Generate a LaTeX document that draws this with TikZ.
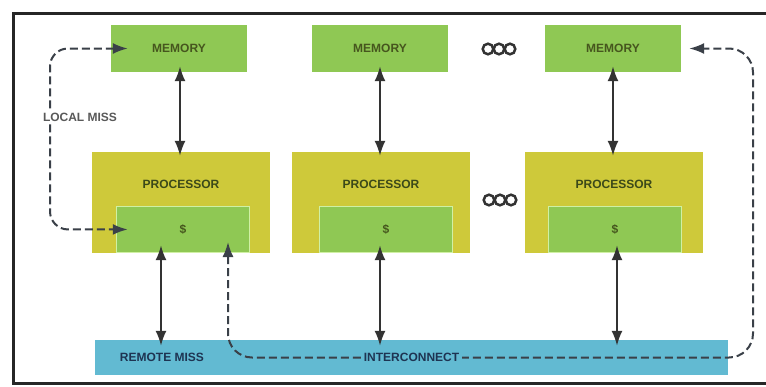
\documentclass[tikz,border=0pt]{standalone}
\usepackage{fontspec}
\setmainfont{Liberation Sans}
\usetikzlibrary{arrows.meta}
\definecolor{MemGreen}{RGB}{143,200,84}
\definecolor{CacheEdge}{RGB}{208,240,165}
\definecolor{ProcYellow}{RGB}{206,201,58}
\definecolor{BusBlue}{RGB}{98,186,210}
\definecolor{DarkOlive}{RGB}{70,86,30}
\definecolor{DarkSlate}{RGB}{58,64,72}
\definecolor{BusText}{RGB}{30,52,82}

\begin{document}
\begin{tikzpicture}[x=1pt,y=-1pt,
box/.style={inner sep=0pt,font=\fontsize{12}{14}\selectfont\bfseries},
mem/.style={box,fill=MemGreen,text=DarkOlive,minimum width=136pt,minimum height=47pt},
proc/.style={box,fill=ProcYellow,minimum width=178pt,minimum height=101pt},
ptxt/.style={box,text=DarkOlive!85!black},
cache/.style={mem,draw=CacheEdge,line width=1.5pt,minimum width=133pt,minimum height=46pt},
bus/.style={box,fill=BusBlue,minimum width=633pt,minimum height=35pt},
btxt/.style={box,text=BusText,fill=BusBlue,inner sep=3pt},
lbl/.style={box,text=black!65,fill=white,inner sep=2pt},
link/.style={{Latex[length=15pt,width=11pt]}-{Latex[length=15pt,width=11pt]},line width=2pt,draw=black!80},
miss/.style={link,dash pattern=on 8pt off 4pt,line width=2pt,draw=DarkSlate,rounded corners=18pt},
ring/.style={line width=2.5pt,draw=black!80}]

\fill[white] (0,0) rectangle (766,386);
\useasboundingbox (0,0) rectangle (766,386);
\draw[line width=2.8pt,black!85] (766,13.5) -- (13.5,13.5) -- (13.5,383.5) -- (766,383.5);

\node[mem] (m1) at (179,48.5) {MEMORY};
\node[mem] (m2) at (380,48.5) {MEMORY};
\node[mem] (m3) at (613,48.5) {MEMORY};

\node[proc] (p1) at (181,202.5) {};
\node[proc] (p2) at (381,202.5) {};
\node[proc] (p3) at (614,202.5) {};
\node[ptxt] (p1l) at (181,184) {PROCESSOR};
\node[ptxt] (p2l) at (381,184) {PROCESSOR};
\node[ptxt] (p3l) at (614,184) {PROCESSOR};
\node[cache,anchor=south] (c1) at ([xshift=2pt]p1.south) {\$};
\node[cache,anchor=south] (c2) at ([xshift=5pt]p2.south) {\$};
\node[cache,anchor=south] (c3) at ([xshift=1pt]p3.south) {\$};

\node[bus] (bus) at (411.5,357.5) {};

\foreach \i in {0,1,2} {
  \draw[ring] (488+11*\i,49) circle (5.3);
  \draw[ring] (489+11*\i,200) circle (5.3);
}

\draw[link] ([yshift=6pt]m1.south -| 180,0) -- ([yshift=-4pt]p1.north -| 180,0);
\draw[link] ([yshift=6pt]m2.south) -- ([yshift=-4pt]p2.north -| m2.south);
\draw[link] ([yshift=6pt]m3.south) -- ([yshift=-4pt]p3.north -| m3.south);
\draw[link] ([yshift=8pt]p1.south -| 161,0) -- ([yshift=-6pt]bus.north -| 161,0);
\draw[link] ([yshift=8pt]p2.south -| 380,0) -- ([yshift=-6pt]bus.north -| 380,0);
\draw[link] ([yshift=8pt]p3.south -| 617,0) -- ([yshift=-6pt]bus.north -| 617,0);

\coordinate (lrail) at (50,130);
\coordinate (rtip) at (228,242);
\coordinate (rrail) at (753,200);
\draw[miss] ([xshift=17pt]m1.west) -| (lrail) |- ([xshift=12pt]c1.west);
\draw[miss,rounded corners=24pt] (rtip) |- (rrail |- bus.center) |- ([xshift=8pt]m3.east);

\node[lbl] (lmiss) at (80,117) {LOCAL MISS};
\node[btxt] (rmiss) at (162,357.5) {REMOTE MISS};
\node[btxt] (icn) at (bus.center) {INTERCONNECT};

\end{tikzpicture}
\end{document}
